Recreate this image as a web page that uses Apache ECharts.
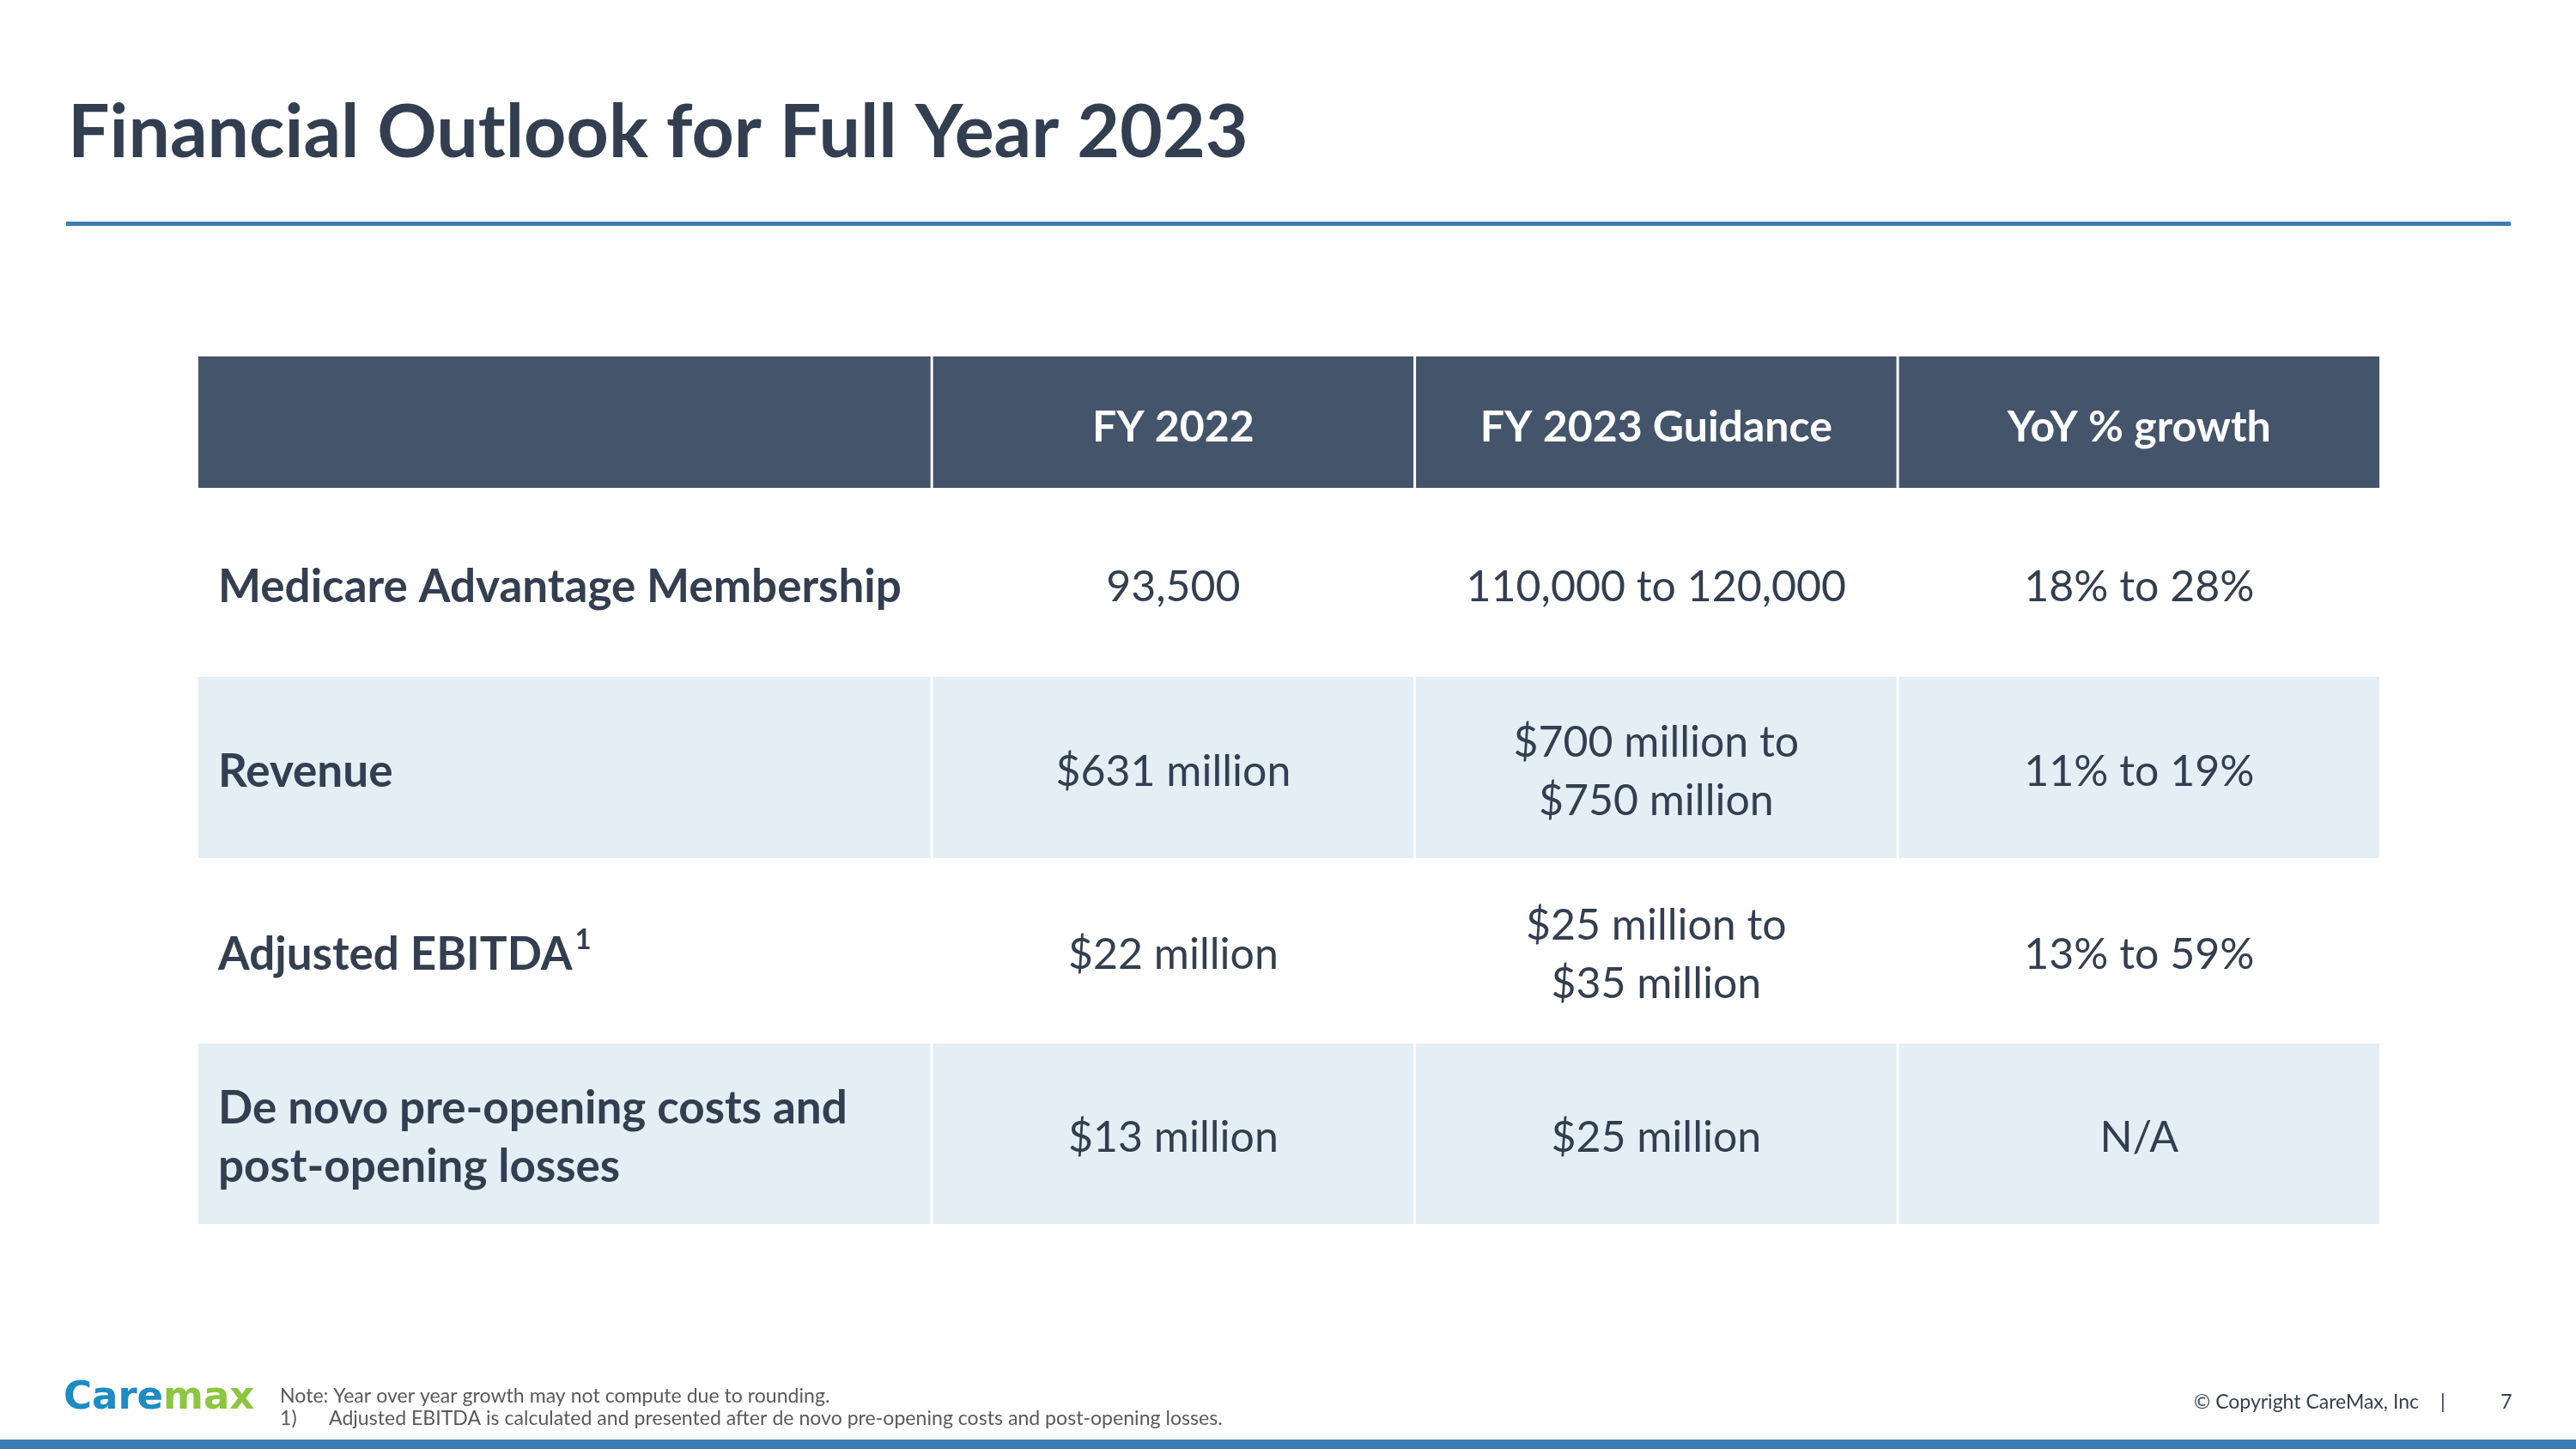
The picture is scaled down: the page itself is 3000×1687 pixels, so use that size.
<!DOCTYPE html>
<html>
<head>
<meta charset="utf-8">
<script src="https://cdn.jsdelivr.net/npm/echarts@6/dist/echarts.min.js"></script>
<style>
  html, body { margin: 0; padding: 0; background: #ffffff; }
  #chart { width: 3000px; height: 1687px; }
</style>
</head>
<body>
<div id="chart"></div>
<script>
// ---------- DATA ----------
const titleText = 'Financial Outlook for Full Year 2023';
const headers = ['', 'FY 2022', 'FY 2023 Guidance', 'YoY % growth'];
const metrics = ['Medicare Advantage Membership', 'Revenue', 'Adjusted EBITDA{s|1}', 'De novo pre-opening costs and\npost-opening losses'];
const fy2022 = ['93,500', '$631 million', '$22 million', '$13 million'];
const fy2023Guidance = ['110,000 to 120,000', '$700 million to\n$750 million', '$25 million to\n$35 million', '$25 million'];
const yoyGrowth = ['18% to 28%', '11% to 19%', '13% to 59%', 'N/A'];
const noteLine = 'Note: Year over year growth may not compute due to rounding.';
const footnoteNum = '1)';
const footnoteText = 'Adjusted EBITDA is calculated and presented after de novo pre-opening costs and post-opening losses.';
const copyrightText = '© Copyright CareMax, Inc';
const pageNumber = '7';
const logoParts = ['Care', 'max'];

// ---------- LAYOUT (not data) ----------
const colEdges = [0, 1.516, 2.516, 3.516, 4.516];
const rowEdges = [0, 155, 373, 584, 800, 1010];
const C = {
  dark: '#333F50', header: '#44546A', light: '#E4EEF5', blue: '#3C7DB6',
  gray: '#595959', logoBlue: '#1E8BC3', logoGreen: '#8CC63F'
};
const FONT = 'Lato';

// build cells from arrays
const columns = [metrics, fy2022, fy2023Guidance, yoyGrowth];
const cells = [];
headers.forEach((h, c) => cells.push({ value: [c, 0], text: h }));
for (let r = 0; r < metrics.length; r++) {
  for (let c = 0; c < columns.length; c++) {
    cells.push({ value: [c, r + 1], text: columns[c][r] });
  }
}

function renderCell(params, api) {
  const c = api.value(0), r = api.value(1);
  const text = cells[params.dataIndex].text;
  const p0 = api.coord([colEdges[c], rowEdges[r]]);
  const p1 = api.coord([colEdges[c + 1], rowEdges[r + 1]]);
  const x0 = Math.min(p0[0], p1[0]), x1 = Math.max(p0[0], p1[0]);
  const y0 = Math.min(p0[1], p1[1]), y1 = Math.max(p0[1], p1[1]);
  const gap = c > 0 ? 3 : 0;
  let fill;
  if (r === 0) fill = C.header;
  else fill = (r % 2 === 0) ? C.light : '#ffffff';
  const isHeader = r === 0;
  const isLabel = !isHeader && c === 0;
  const bold = isHeader || c === 0;
  const size = isLabel ? 53 : 50;
  const tx = c === 0 ? x0 + 23 : (x0 + gap + x1) / 2;
  const children = [{
    type: 'rect',
    shape: { x: x0 + gap, y: y0, width: x1 - x0 - gap, height: y1 - y0 - (r === 0 ? 2 : 0) },
    style: { fill: fill }
  }];
  if (text) {
    children.push({
      type: 'text',
      x: tx, y: (y0 + y1) / 2 + 5,
      style: {
        text: text,
        fill: isHeader ? '#ffffff' : C.dark,
        font: (bold ? 'bold ' : '') + size + 'px ' + FONT,
        align: c === 0 ? 'left' : 'center',
        verticalAlign: 'middle',
        lineHeight: 68,
        rich: {
          s: { fontSize: 33, fontWeight: 'bold', fontFamily: FONT, fill: C.dark, verticalAlign: 'top', lineHeight: 50, padding: [0, 0, 6, 3] }
        }
      }
    });
  }
  return { type: 'group', children: children };
}

const chart = echarts.init(document.getElementById('chart'), null, { renderer: 'canvas' });
chart.setOption({
  backgroundColor: '#ffffff',
  animation: false,
  grid: { left: 231, top: 415, width: 2540, height: 1010 },
  xAxis: { type: 'value', min: 0, max: colEdges[colEdges.length - 1], show: false },
  yAxis: { type: 'value', min: 0, max: rowEdges[rowEdges.length - 1], inverse: true, show: false },
  series: [{
    type: 'custom',
    coordinateSystem: 'cartesian2d',
    renderItem: renderCell,
    data: cells,
    silent: true
  }],
  graphic: [
    { type: 'text', left: 79, top: 112, style: { text: titleText, fill: C.dark, font: 'bold 86px ' + FONT } },
    { type: 'rect', shape: { x: 77, y: 258, width: 2847, height: 5 }, style: { fill: C.blue } },
    { type: 'rect', shape: { x: 0, y: 1676, width: 3000, height: 11 }, style: { fill: C.blue } },
    { type: 'text', x: 74, y: 1628, style: {
        text: '{b|' + logoParts[0] + '}{g|' + logoParts[1] + '}',
        verticalAlign: 'middle',
        rich: {
          b: { fill: C.logoBlue, fontSize: 45, fontWeight: 'bold', fontFamily: 'DejaVu Sans' },
          g: { fill: C.logoGreen, fontSize: 45, fontWeight: 'bold', fontFamily: 'DejaVu Sans' }
        }
    } },
    { type: 'text', x: 326, y: 1626, style: { text: noteLine, fill: C.gray, font: '23.1px ' + FONT, verticalAlign: 'middle' } },
    { type: 'text', x: 326, y: 1652, style: { text: footnoteNum, fill: C.gray, font: '23.1px ' + FONT, verticalAlign: 'middle' } },
    { type: 'text', x: 383, y: 1652, style: { text: footnoteText, fill: C.gray, font: '23.1px ' + FONT, verticalAlign: 'middle' } },
    { type: 'text', x: 2817, y: 1633, style: { text: copyrightText, fill: C.dark, font: '23px ' + FONT, align: 'right', verticalAlign: 'middle' } },
    { type: 'text', x: 2845, y: 1633, style: { text: '|', fill: C.dark, font: '23px ' + FONT, align: 'center', verticalAlign: 'middle' } },
    { type: 'text', x: 2919, y: 1633, style: { text: pageNumber, fill: C.dark, font: '23px ' + FONT, align: 'center', verticalAlign: 'middle' } }
  ]
});
</script>
</body>
</html>
